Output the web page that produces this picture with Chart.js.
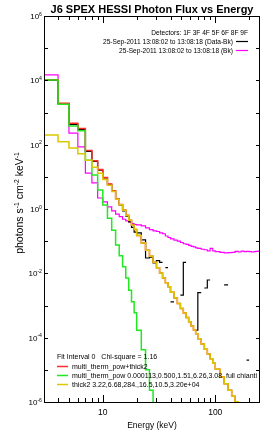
<!DOCTYPE html>
<html>
<head>
<meta charset="utf-8">
<script src="https://cdn.jsdelivr.net/npm/chart.js@4.4.1/dist/chart.umd.min.js"></script>
<style>
  html, body { margin: 0; padding: 0; background: #fff; }
  canvas { display: block; }
</style>
</head>
<body>
<canvas id="chart_spex" width="273" height="436"></canvas>
<script>
// energy bin edges (keV)
var energyEdges = [3,4,5,6,7,8,9,10,11,12,13,14,15,16,17,18,19,20,
  22,24,26,28,30,32,34,36,38,40,
  43,46,49,52,55,58,61,64,67,70,
  75,80,85,90,95,100,
  110,120,130,140,150,160,170,180,190,200,210,220,230,240,250];

// photon flux per bin (photons s-1 cm-2 keV-1), null = negative / not plotted
var dataMinusBk = [1.0e4,1.9e3,4.3e2,3.0e2,62,30,16,9.3,5.8,3.5,2.0,1.35,0.88,0.60,0.40,0.27,0.19,
  0.18,0.11,0.03,0.032,0.021,0.025,0.022,null,0.015,null,
  1.3e-3,null,null,2.1e-3,0.022,null,null,null,null,1.7e-4,
  2.5e-3,null,3.5e-3,6.2e-3,null,null,
  null,null,4.4e-3,null,null,null,null,null,null,2.0e-5,null,null,null,null,null];

var background = [1.48e4,1.9e3,2.3e2,85,13,6.5,2.2,1.66,1.17,0.87,0.69,0.58,0.48,0.43,0.40,0.35,0.33,
  0.32,0.30,0.26,0.23,0.21,0.20,0.18,0.17,0.145,0.13,
  0.117,0.107,0.100,0.091,0.083,0.079,0.074,0.069,0.066,0.062,
  0.060,0.056,0.054,0.050,0.060,0.050,
  0.047,0.045,0.043,0.044,0.045,0.048,0.046,0.049,0.047,0.048,0.047,0.046,0.047,0.048,0.049];

var totalModel = [1.04e4,1.94e3,4.6e2,3.2e2,66,31.5,16.9,9.6,6.0,3.7,2.08,1.39,0.93,0.64,0.45,0.32,0.23,
  0.15,0.087,0.052,0.034,0.022,0.0148,0.0102,7.1e-3,5.1e-3,3.8e-3,
  2.6e-3,1.7e-3,1.15e-3,8.1e-4,5.8e-4,4.2e-4,3.1e-4,2.3e-4,1.74e-4,1.32e-4,
  9.3e-5,6.3e-5,4.4e-5,3.1e-5,2.2e-5,1.6e-5,
  1.05e-5,6.0e-6,3.7e-6,2.3e-6,1.5e-6,1.02e-6,7.1e-7,5.0e-7,null,null,null,null,null,null,null];

var thermModel = [1.02e4,1.82e3,3.8e2,2.7e2,33,11.5,3.9,1.32,0.52,0.22,0.076,0.035,0.016,7.2e-3,3.0e-3,1.3e-3,5.9e-4,
  1.7e-4,4.2e-5,1.0e-5,2.3e-6,5.0e-7,null,null,null,null,null,
  null,null,null,null,null,null,null,null,null,null,
  null,null,null,null,null,null,
  null,null,null,null,null,null,null,null,null,null,null,null,null,null,null];

var thickModel = [200,123,79,52,33,20,13,8.3,5.5,3.5,2.0,1.35,0.91,0.63,0.45,0.32,0.23,
  0.15,0.087,0.052,0.034,0.022,0.0148,0.0102,7.1e-3,5.1e-3,3.8e-3,
  2.6e-3,1.7e-3,1.15e-3,8.1e-4,5.8e-4,4.2e-4,3.1e-4,2.3e-4,1.74e-4,1.32e-4,
  9.3e-5,6.3e-5,4.4e-5,3.1e-5,2.2e-5,1.6e-5,
  1.05e-5,6.0e-6,3.7e-6,2.3e-6,1.5e-6,1.02e-6,7.1e-7,5.0e-7,null,null,null,null,null,null,null];

// axis ticks / labels
var yDecades = [-6,-5,-4,-3,-2,-1,0,1,2,3,4,5,6];
var yLabelExps = [-6,-4,-2,0,2,4,6];
var xMajorTicks = [10, 100];
var xMinorTicks = [4,5,6,7,8,9,20,30,40,50,60,70,80,90,200];

var fitText = 'Fit Interval 0   Chi-square = 1.16';
var modelLabels = ['multi_therm_pow+thick2',
  'multi_therm_pow 0.000113,0.500,1.51,6.26,3.08  full chianti',
  'thick2 3.22,6.68,284.,16.5,10.5,3.20e+04'];
var modelColors = ['#ff2a2a', '#22e822', '#dcc800'];
var detText = 'Detectors: 1F 3F 4F 5F 6F 8F 9F';
var timeLabels = ['25-Sep-2011 13:08:02 to 13:08:18 (Data-Bk)', '25-Sep-2011 13:08:02 to 13:08:18 (Bk)'];
var timeColors = ['#000000', '#ff00ff'];

function buildSteps(values, floor) {
  var pts = [];
  if (floor) pts.push({x: energyEdges[0], y: floor});
  for (var i = 0; i < values.length; i++) {
    if (values[i] === null) {
      pts.push({x: energyEdges[i], y: null});
      continue;
    }
    pts.push({x: energyEdges[i], y: values[i]});
    pts.push({x: energyEdges[i + 1], y: values[i]});
  }
  return pts;
}

var FONT = '"Liberation Sans", Arial, Helvetica, sans-serif';

// draw text with superscript pieces: parts = [[text, isSup], ...]
function drawParts(ctx, parts, x, y, size, align) {
  var supSize = size * 0.65;
  var total = 0;
  parts.forEach(function(p) {
    ctx.font = (p[1] ? supSize : size) + 'px ' + FONT;
    total += ctx.measureText(p[0]).width;
  });
  var cx = x;
  if (align === 'right') cx = x - total;
  if (align === 'center') cx = x - total / 2;
  ctx.textAlign = 'left';
  ctx.textBaseline = 'alphabetic';
  parts.forEach(function(p) {
    ctx.font = (p[1] ? supSize : size) + 'px ' + FONT;
    ctx.fillText(p[0], cx, p[1] ? y - size * 0.42 : y);
    cx += ctx.measureText(p[0]).width;
  });
}

var decorations = {
  id: 'decorations',
  afterDraw: function(chart) {
    var ctx = chart.ctx;
    var a = chart.chartArea;
    var xs = chart.scales.x, ys = chart.scales.y;
    ctx.save();
    ctx.fillStyle = '#000';
    ctx.strokeStyle = '#000';
    ctx.lineWidth = 1;

    // frame
    ctx.strokeRect(Math.round(a.left) + 0.5, Math.round(a.top) + 0.5,
      Math.round(a.right - a.left) - 1, Math.round(a.bottom - a.top));

    // y ticks, both sides
    ctx.beginPath();
    yDecades.forEach(function(d) {
      var py = Math.round(ys.getPixelForValue(Math.pow(10, d))) + 0.5;
      ctx.moveTo(a.left, py); ctx.lineTo(a.left + 4, py);
      ctx.moveTo(a.right, py); ctx.lineTo(a.right - 4, py);
    });
    // x ticks, top and bottom
    xMinorTicks.forEach(function(v) {
      var px = Math.round(xs.getPixelForValue(v)) + 0.5;
      ctx.moveTo(px, a.bottom); ctx.lineTo(px, a.bottom - 4);
      ctx.moveTo(px, a.top); ctx.lineTo(px, a.top + 4);
    });
    xMajorTicks.forEach(function(v) {
      var px = Math.round(xs.getPixelForValue(v)) + 0.5;
      ctx.moveTo(px, a.bottom); ctx.lineTo(px, a.bottom - 7);
      ctx.moveTo(px, a.top); ctx.lineTo(px, a.top + 7);
    });
    ctx.stroke();

    // y labels
    yLabelExps.forEach(function(e) {
      var py = ys.getPixelForValue(Math.pow(10, e));
      drawParts(ctx, [['10', false], [String(e), true]], a.left - 2, py + 3, 8, 'right');
    });
    // x labels
    xMajorTicks.forEach(function(v) {
      drawParts(ctx, [[String(v), false]], xs.getPixelForValue(v), 415, 8.5, 'center');
    });

    // axis titles
    drawParts(ctx, [['Energy (keV)', false]], (a.left + a.right) / 2, 428, 8.5, 'center');
    ctx.save();
    ctx.translate(23, 203);
    ctx.rotate(-Math.PI / 2);
    drawParts(ctx, [['photons s', false], ['-1', true], [' cm', false], ['-2', true], [' keV', false], ['-1', true]],
      0, 0, 10.5, 'center');
    ctx.restore();

    // title
    ctx.font = 'bold 11px ' + FONT;
    ctx.textAlign = 'center';
    ctx.textBaseline = 'alphabetic';
    ctx.fillText('J6 SPEX HESSI Photon Flux vs Energy', (a.left + a.right) / 2, 13);

    // top-right legend
    ctx.font = '6.6px ' + FONT;
    ctx.textAlign = 'right';
    ctx.fillText(detText, 248, 35);
    timeLabels.forEach(function(t, i) {
      var by = 44 + i * 9;
      ctx.fillStyle = '#000';
      ctx.fillText(t, 233, by);
      ctx.strokeStyle = timeColors[i];
      ctx.lineWidth = 1.2;
      ctx.beginPath();
      ctx.moveTo(236, by - 2.5); ctx.lineTo(248, by - 2.5);
      ctx.stroke();
    });

    // bottom-left legend
    ctx.fillStyle = '#000';
    ctx.font = '7px ' + FONT;
    ctx.textAlign = 'left';
    ctx.fillText(fitText, 57, 359);
    modelLabels.forEach(function(t, i) {
      var by = 369 + i * 9;
      ctx.strokeStyle = modelColors[i];
      ctx.lineWidth = 1.5;
      ctx.beginPath();
      ctx.moveTo(57, by - 2.5); ctx.lineTo(68, by - 2.5);
      ctx.stroke();
      ctx.fillStyle = '#000';
      ctx.fillText(t, 72, by);
    });
    ctx.restore();
  }
};

var ctx_spex = document.getElementById('chart_spex').getContext('2d');
var chart_spex = new Chart(ctx_spex, {
  type: 'line',
  data: {
    datasets: [
      { label: 'thick2', data: buildSteps(thickModel, 1e-7), borderColor: modelColors[2], borderWidth: 1.5 },
      { label: 'multi_therm_pow', data: buildSteps(thermModel, 1e-7), borderColor: modelColors[1], borderWidth: 1.5 },
      { label: 'multi_therm_pow+thick2', data: buildSteps(totalModel, 1e-7), borderColor: modelColors[0], borderWidth: 1.5 },
      { label: 'Data-Bk', data: buildSteps(dataMinusBk, null), borderColor: '#000000', borderWidth: 1.2 },
      { label: 'Bk', data: buildSteps(background, null), borderColor: '#ff00ff', borderWidth: 1.2 }
    ]
  },
  options: {
    responsive: false,
    animation: false,
    parsing: true,
    spanGaps: false,
    layout: { padding: { left: 44, right: 13, top: 16, bottom: 34 } },
    elements: { point: { radius: 0 }, line: { tension: 0, fill: false } },
    plugins: { legend: { display: false }, tooltip: { enabled: false }, title: { display: false } },
    scales: {
      x: { type: 'logarithmic', min: 3, max: 250, display: false },
      y: { type: 'logarithmic', min: 1e-6, max: 1e6, display: false }
    }
  },
  plugins: [decorations]
});
</script>
</body>
</html>
